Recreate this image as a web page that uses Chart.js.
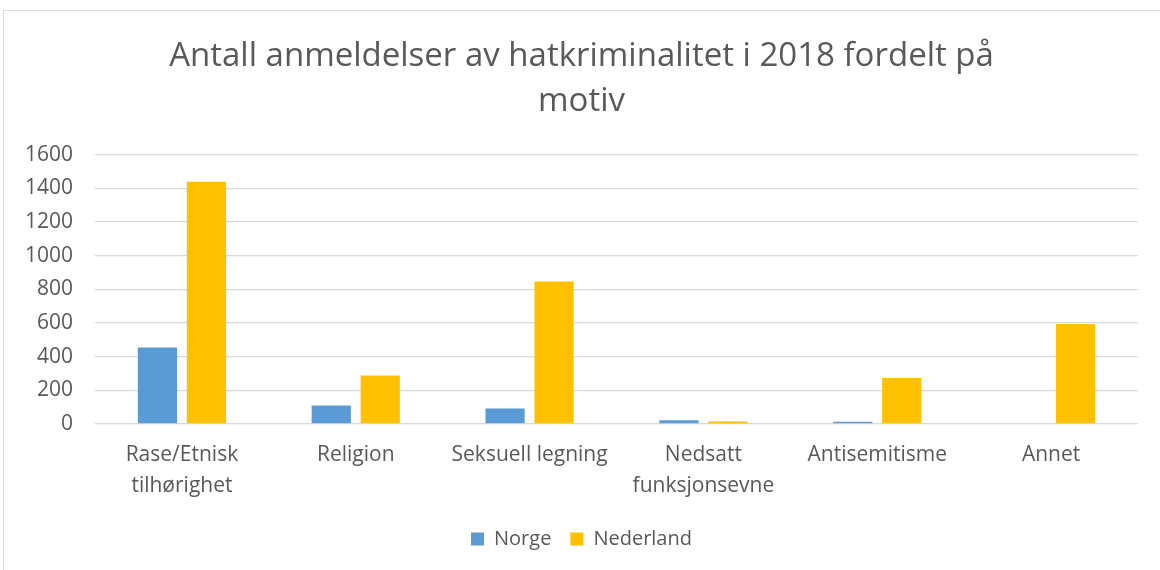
<!DOCTYPE html>
<html>
<head>
<meta charset="utf-8">
<script src="https://cdn.jsdelivr.net/npm/chart.js@4.4.0/dist/chart.umd.min.js"></script>
<style>
    body { margin: 0; background: #fff; }
    #frame { position: absolute; left: 3px; top: 10px; width: 1300px; height: 700px; border-left: 1px solid #d9d9d9; border-top: 1px solid #d9d9d9; }
    #wrap { position: absolute; left: 0; top: 0; width: 1160px; height: 570px; }
</style>
</head>
<body>
<div id="frame"></div>
<div id="wrap"><canvas id="chart"></canvas></div>
<script>
// Chart data
const categories = [['Rase/Etnisk', 'tilhørighet'], 'Religion', 'Seksuell legning', ['Nedsatt', 'funksjonsevne'], 'Antisemitisme', 'Annet'];
const norge = [454, 109, 91, 22, 12, 0];
const nederland = [1439, 287, 846, 14, 273, 594];
const yTicks = [0, 200, 400, 600, 800, 1000, 1200, 1400, 1600];

const textColor = '#595959';
const fontFamily = '"Open Sans", Lato, sans-serif';

document.addEventListener('DOMContentLoaded', function() {
    const ctx = document.getElementById('chart');

    new Chart(ctx, {
        type: 'bar',
        data: {
            labels: categories,
            datasets: [
                { label: 'Norge', data: norge, backgroundColor: '#5B9BD5', barPercentage: 0.8, categoryPercentage: 0.564 },
                { label: 'Nederland', data: nederland, backgroundColor: '#FFC000', barPercentage: 0.8, categoryPercentage: 0.564 }
            ]
        },
        options: {
            responsive: true,
            maintainAspectRatio: false,
            animation: false,
            layout: { padding: { left: 25, right: 22, top: 0, bottom: 11 } },
            plugins: {
                title: {
                    display: true,
                    text: ['Antall anmeldelser av hatkriminalitet i 2018 fordelt på', 'motiv'],
                    color: textColor,
                    font: { family: fontFamily, size: 33, weight: 'normal', lineHeight: 1.36 },
                    padding: { top: 34, bottom: 31 }
                },
                legend: {
                    position: 'bottom',
                    labels: {
                        color: textColor,
                        font: { family: fontFamily, size: 20 },
                        boxWidth: 13,
                        boxHeight: 13,
                        padding: 19
                    }
                },
                tooltip: { enabled: false }
            },
            scales: {
                x: {
                    grid: { display: false },
                    border: { display: false },
                    ticks: {
                        color: textColor,
                        font: { family: fontFamily, size: 21, lineHeight: 1.48 },
                        padding: 8,
                        maxRotation: 0,
                        autoSkip: false
                    }
                },
                y: {
                    min: 0,
                    max: 1600,
                    afterBuildTicks: function(scale) {
                        scale.ticks = yTicks.map(v => ({ value: v }));
                    },
                    afterFit: function(scale) {
                        scale.width = 70;
                    },
                    grid: { color: '#d9d9d9', lineWidth: 1.3, drawTicks: false },
                    border: { display: false },
                    ticks: {
                        color: textColor,
                        font: { family: fontFamily, size: 21 },
                        padding: 22,
                        callback: function(value) { return String(value); }
                    }
                }
            }
        }
    });
});
</script>
</body>
</html>
